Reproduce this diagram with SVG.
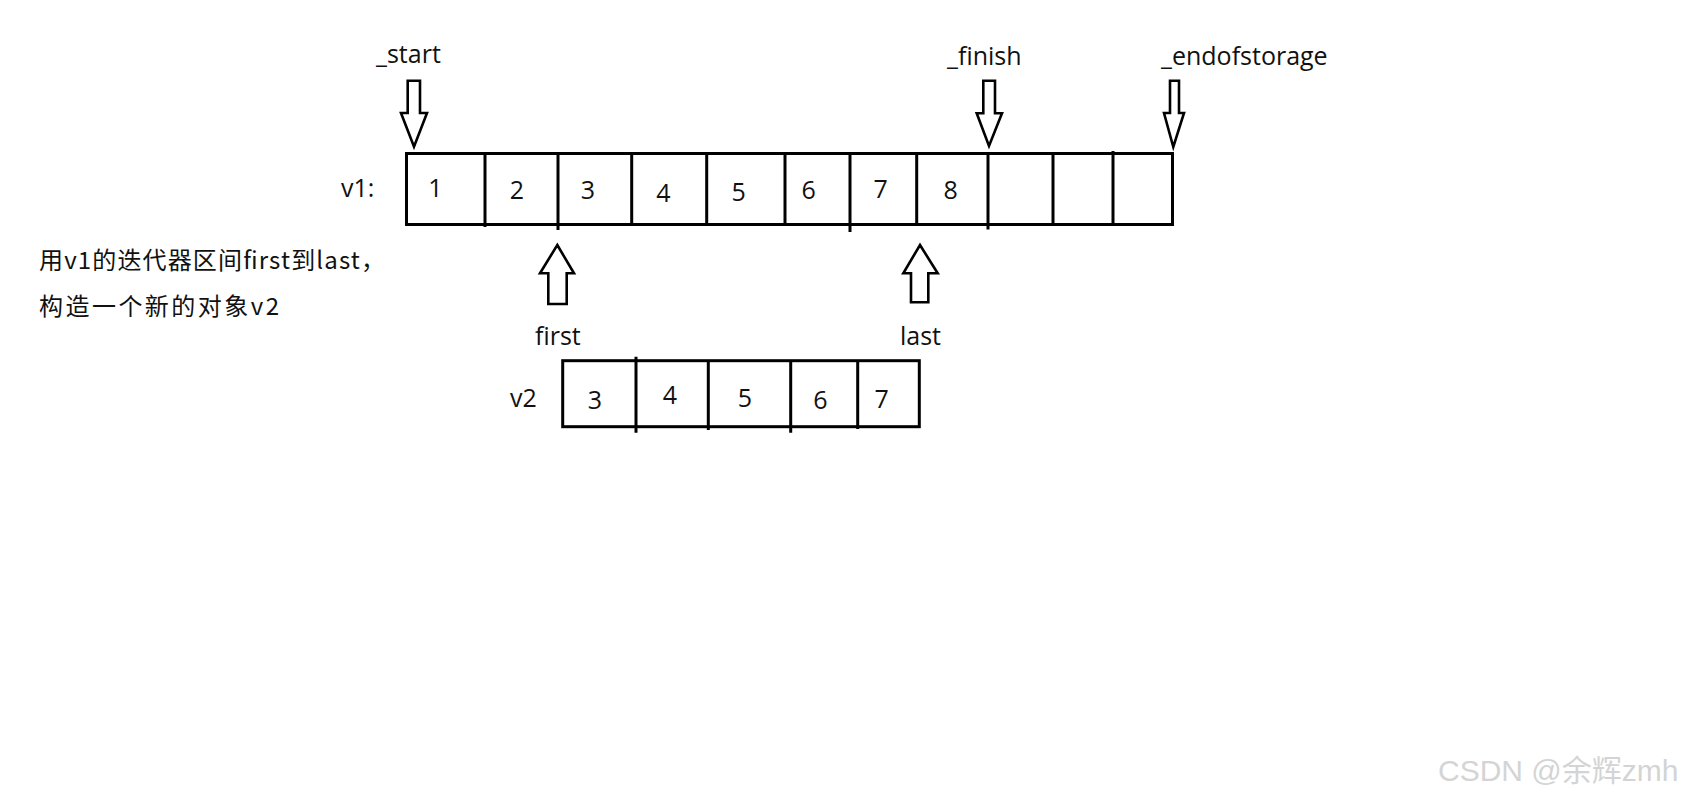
<svg xmlns="http://www.w3.org/2000/svg" width="1686" height="803" viewBox="0 0 1686 803">
<style>
.t{font-family:"Open Sans","Noto Sans","Noto Sans CJK SC",sans-serif;font-size:25px;fill:#111}
.d{font-family:"Open Sans","Noto Sans",sans-serif;font-size:25px;fill:#111;text-anchor:middle}
.cn{font-family:"Noto Sans CJK SC","Noto Sans",sans-serif;font-size:24px;fill:#111}
.box{fill:#fff;stroke:#000;stroke-width:3}
.ln{stroke:#000;stroke-width:3;fill:none}
.arr{fill:#fff;stroke:#000;stroke-width:2.6;stroke-linejoin:miter}
.wm{font-family:"Liberation Sans","Noto Sans CJK SC",sans-serif;font-size:30px;fill:#d4d4d4}
</style>
<rect width="1686" height="803" fill="#fff"/>

<g id="v1">
<rect class="box" x="406.5" y="153.5" width="766" height="71"/>
<path class="ln" d="M485,153.5V227 M558,153.5V230 M631.7,153.5V224.5 M706.7,153.5V224.5 M785,153.5V224.5 M850,153.5V232 M916.7,153.5V224.5 M988,153.5V229.5 M1053,153.5V224.5 M1113,151V224.5"/>
<text class="t" x="341" y="197">v1:</text>
<text class="d" x="435.5" y="197">1</text>
<text class="d" x="517" y="199">2</text>
<text class="d" x="588" y="199">3</text>
<text class="d" x="663.5" y="202">4</text>
<text class="d" x="738.7" y="201">5</text>
<text class="d" x="808.6" y="199">6</text>
<text class="d" x="880.7" y="198">7</text>
<text class="d" x="950.6" y="199">8</text>
</g>

<g id="v2">
<rect class="box" x="562.7" y="360.7" width="356.6" height="66"/>
<path class="ln" d="M636,356.7V432.7 M708.3,360.7V430 M790.7,360.7V432.7 M857.7,360.7V429"/>
<text class="t" x="510" y="407">v2</text>
<text class="d" x="595" y="409">3</text>
<text class="d" x="670" y="404">4</text>
<text class="d" x="745" y="407">5</text>
<text class="d" x="820.5" y="409">6</text>
<text class="d" x="881.7" y="408">7</text>
</g>

<g id="start">
<text class="t" x="376" y="63">_start</text>
</g>
<g id="finish">
<text class="t" x="947" y="65">_finish</text>
</g>
<g id="endofstorage">
<text class="t" x="1161" y="65">_endofstorage</text>
</g>
<g id="first">
<text class="t" x="535" y="345">first</text>
</g>
<g id="last">
<text class="t" x="900" y="345">last</text>
</g>

<g id="note">
<text class="cn" x="39" y="269" textLength="346" lengthAdjust="spacing">用v1的迭代器区间first到last，</text>
<text class="cn" x="39" y="315" textLength="240" lengthAdjust="spacing">构造一个新的对象v2</text>
</g>

<g id="connectors">
<polygon class="arr" points="407.7,80.7 420,80.7 420,113 427,113 414,146.7 401,113 407.7,113"/>
<polygon class="arr" points="983.3,80.7 995,80.7 995,113.3 1002,113.3 989,146 976.7,113.3 983.3,113.3"/>
<polygon class="arr" points="1170,80.7 1179,80.7 1179,113 1184,113 1173.3,147 1164,113 1170,113"/>
<polygon class="arr" points="557.3,245 574,273.3 566.7,273.3 566.7,304 548.3,304 548.3,273.3 540,273.3"/>
<polygon class="arr" points="920,245 937.7,273.3 928.3,273.3 928.3,302.3 911,302.3 911,273.3 903.3,273.3"/>
</g>

<g id="watermark">
<text class="wm" x="1439" y="782" style="fill:#fff" dx="1" dy="1">CSDN @余辉zmh</text>
<text class="wm" x="1438" y="781">CSDN @余辉zmh</text>
</g>
</svg>
